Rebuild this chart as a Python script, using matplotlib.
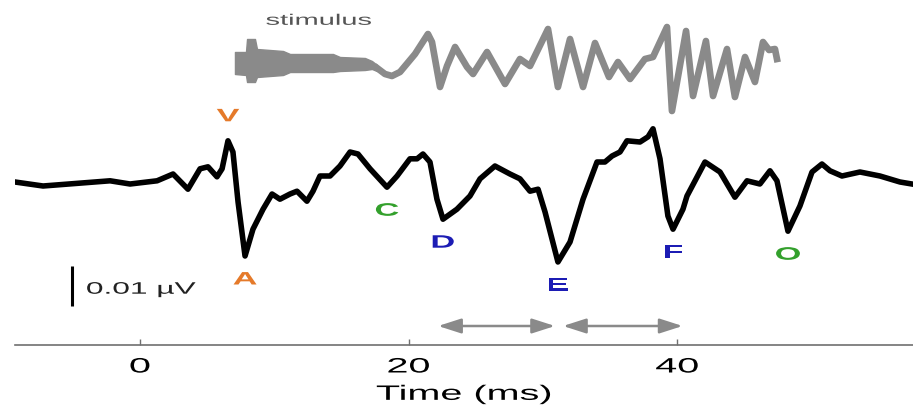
import numpy as np
import matplotlib.pyplot as plt
from matplotlib.patheffects import AbstractPathEffect
from matplotlib.transforms import Affine2D

plt.rcParams['font.family'] = ['Liberation Sans', 'DejaVu Sans']

# averaged response, time in ms and amplitude in uV
t_resp = [-9.31, -7.22, -2.23, -0.74, 1.27, 2.46, 3.57, 4.47, 5.06, 5.73,
          6.11, 6.55, 6.92, 7.30, 7.82, 8.41, 9.16, 9.83, 10.42, 11.17,
          11.69, 12.43, 12.88, 13.40, 14.15, 14.89, 15.64, 16.23, 17.13, 18.39,
          19.14, 20.10, 20.63, 21.07, 21.59, 22.11, 22.56, 23.60, 24.57, 25.32,
          26.43, 27.55, 28.29, 29.04, 29.64, 30.16, 31.12, 32.02, 32.99, 34.03,
          34.62, 35.15, 35.74, 36.26, 37.23, 37.83, 38.20, 38.72, 39.31, 39.69,
          40.43, 40.73, 42.07, 43.19, 44.30, 45.20, 46.16, 46.91, 47.43, 48.25,
          49.14, 50.04, 50.78, 51.38, 52.27, 53.61, 55.10, 56.59, 57.48]
v_resp = [0, -0.0010, 0.0003, -0.0005, 0.0003, 0.0020, -0.0018, 0.0033, 0.0038, 0.0013,
          0.0033, 0.0103, 0.0075, -0.0050, -0.0185, -0.0118, -0.0068, -0.0030, -0.0043, -0.0030,
          -0.0023, -0.0048, -0.0023, 0.0015, 0.0015, 0.0040, 0.0075, 0.0070, 0.0033, -0.0013,
          0.0015, 0.0058, 0.0058, 0.0070, 0.0050, -0.0043, -0.0093, -0.0068, -0.0035, 0.0008,
          0.0040, 0.0020, 0.0008, -0.0023, -0.0018, -0.0075, -0.0200, -0.0150, -0.0043, 0.0050,
          0.0050, 0.0065, 0.0075, 0.0103, 0.0100, 0.0113, 0.0133, 0.0058, -0.0085, -0.0118,
          -0.0068, -0.0035, 0.0050, 0.0025, -0.0038, 0.0003, -0.0005, 0.0028, 0.0003, -0.0123,
          -0.0060, 0.0025, 0.0045, 0.0028, 0.0015, 0.0025, 0.0015, 0, -0.0005]

# stimulus (arbitrary units): noise burst envelope, then the voiced part
t_burst = [7.07, 7.89, 7.97, 8.56, 8.71, 10.65, 11.17, 14.37, 14.89, 16.75, 17.27, 17.65]
burst_hi = [0.30, 0.30, 0.625, 0.625, 0.375, 0.325, 0.25, 0.25, 0.175, 0.15, 0.075, -0.025]
burst_lo = [-0.25, -0.275, -0.45, -0.45, -0.325, -0.275, -0.20, -0.20, -0.175, -0.15, -0.125, -0.175]
t_stim = [17.65, 18.24, 18.76, 19.36, 20.48, 21.44, 21.74, 22.34, 22.86, 23.46,
          24.35, 24.80, 25.84, 27.18, 28.29, 29.04, 30.38, 31.12, 32.02, 32.99,
          33.88, 34.92, 35.59, 36.49, 37.60, 38.20, 39.24, 39.61, 40.66, 41.18,
          42.14, 42.67, 43.71, 44.30, 45.05, 45.79, 46.39, 46.84, 47.28, 47.43]
s_stim = [-0.10, -0.25, -0.30, -0.20, 0.25, 0.75, 0.55, -0.575, -0.05, 0.425,
          -0.075, -0.25, 0.30, -0.50, 0.125, -0.05, 0.875, -0.575, 0.625, -0.575,
          0.525, -0.325, 0.05, -0.375, 0.125, 0.175, 0.925, -1.175, 0.825, -0.80,
          0.575, -0.80, 0.375, -0.825, 0.175, -0.45, 0.55, 0.35, 0.375, 0.125]

peak_names = ['V', 'A', 'C', 'D', 'E', 'F', 'O']
peak_times = [6.55, 7.82, 18.39, 22.56, 31.12, 39.69, 48.25]
peak_colors = ['#e57a2a', '#e57a2a', '#33a02c', '#1c1cb4', '#1c1cb4', '#1c1cb4', '#33a02c']
interval_spans = [(22.2, 30.9), (31.5, 40.4)]

stim_base, stim_gain = 0.0295, 0.01
scale_bar = 0.01


class Widen(AbstractPathEffect):
    """Draw text glyphs stretched horizontally about their centre."""

    def __init__(self, sx=1.9):
        super().__init__()
        self.sx = sx

    def draw_path(self, renderer, gc, tpath, affine, rgbFace=None):
        ext = tpath.get_extents()
        cx = 0.5 * (ext.x0 + ext.x1)
        stretch = Affine2D().translate(-cx, 0).scale(self.sx, 1).translate(cx, 0)
        renderer.draw_path(gc, tpath, stretch + affine, rgbFace)


wide = [Widen(1.9)]

fig = plt.figure(figsize=(9.13, 4.10), dpi=100)
ax = fig.add_axes([15 / 913, 64 / 410, 898 / 913, 346 / 410])

ax.plot(t_resp, v_resp, color='black', lw=4, solid_joinstyle='round')

hi = stim_base + stim_gain * np.array(burst_hi)
lo = stim_base + stim_gain * np.array(burst_lo)
ax.fill_between(t_burst, hi, lo, color='#8a8a8a', lw=1)
ax.plot(t_stim, stim_base + stim_gain * np.array(s_stim), color='#8a8a8a', lw=4.8,
        solid_joinstyle='round')
ax.text(13.3, 0.0403, 'stimulus', fontsize=11, color='#555555',
        ha='center', va='center', path_effects=wide)

# peak letters above/below the waveform
peak_vals = np.interp(peak_times, t_resp, v_resp)
for name, t, v, c in zip(peak_names, peak_times, peak_vals, peak_colors):
    dy = 24 if name == 'V' else -24
    ax.annotate(name, (t, v), xytext=(0, dy), textcoords='offset pixels',
                fontsize=13, fontweight='bold', color=c,
                ha='center', va='center', path_effects=wide)

# inter-peak intervals
for t0, t1 in interval_spans:
    ax.annotate('', xy=(t1, -0.036), xytext=(t0, -0.036),
                arrowprops=dict(arrowstyle='<|-|>,head_length=1.4,head_width=0.45',
                                mutation_scale=10, color='#8a8a8a', lw=1.8,
                                shrinkA=0, shrinkB=0))

# amplitude scale bar
ax.plot([-5.06, -5.06], [-0.021, -0.021 - scale_bar], color='black', lw=2.2,
        solid_capstyle='butt')
ax.text(0.07, -0.0268, '0.01 \u00b5V', fontsize=12, color='#222222',
        ha='center', va='center', path_effects=wide)

ax.set_xlim(-9.31, 57.56)
ax.set_ylim(-0.04075, 0.04575)
for side in ['top', 'right', 'left']:
    ax.spines[side].set_visible(False)
ax.spines['bottom'].set_color('#707070')
ax.spines['bottom'].set_linewidth(1.2)
ax.set_yticks([])
ax.set_xticks([0, 20, 40])
ax.tick_params(axis='x', direction='in', length=4, width=1, color='#707070',
               labelsize=15, pad=9)
ax.set_xlabel('Time (ms)', fontsize=15, labelpad=6)
plt.setp(ax.get_xticklabels(), path_effects=wide)
ax.xaxis.label.set_path_effects(wide)

fig.savefig('out.png', dpi=100)
